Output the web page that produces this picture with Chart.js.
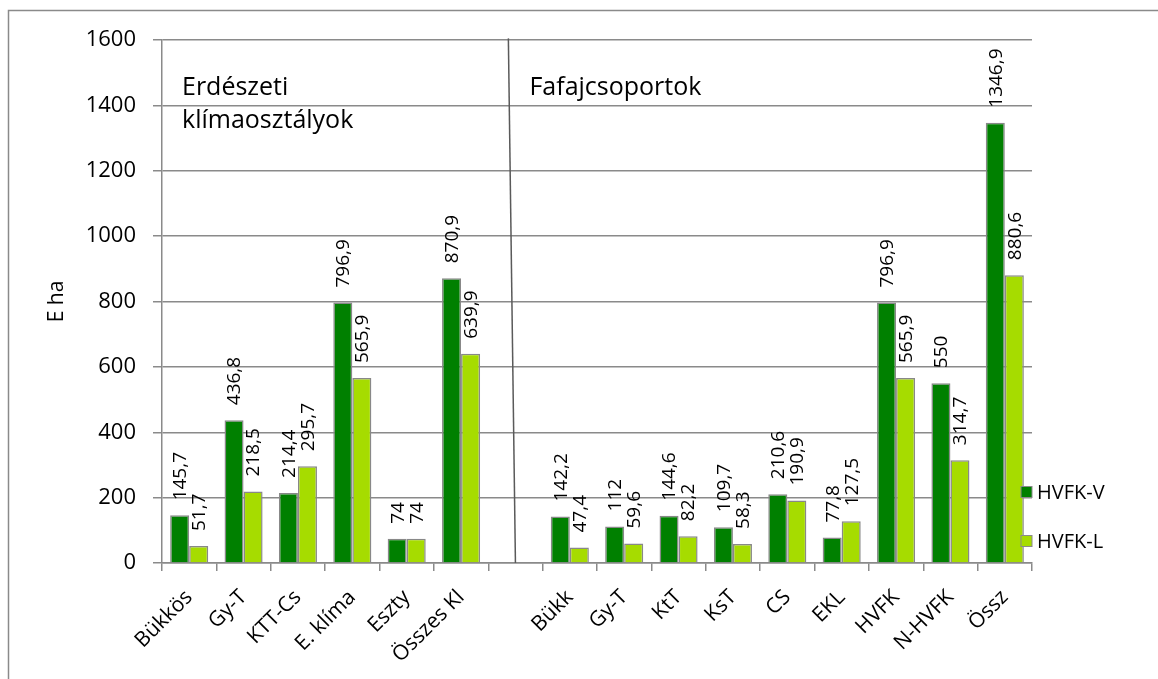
<!DOCTYPE html>
<html>
<head>
<meta charset="utf-8">
<script src="https://cdn.jsdelivr.net/npm/chart.js@4.4.1/dist/chart.umd.min.js"></script>
<style>
  html, body { margin: 0; padding: 0; background: #fff; }
  #wrap { width: 1158px; height: 679px; position: relative; }
</style>
</head>
<body>
<div id="wrap"><canvas id="c" width="1158" height="679"></canvas></div>
<script>
const categories = ['Bükkös', 'Gy-T', 'KTT-Cs', 'E. klíma', 'Eszty', 'Összes Kl', '', 'Bükk', 'Gy-T', 'KtT', 'KsT', 'CS', 'EKL', 'HVFK', 'N-HVFK', 'Össz'];
const seriesNames = ['HVFK-V', 'HVFK-L'];
const hvfkV = [145.7, 436.8, 214.4, 796.9, 74, 870.9, null, 142.2, 112, 144.6, 109.7, 210.6, 77.8, 796.9, 550, 1346.9];
const hvfkL = [51.7, 218.5, 295.7, 565.9, 74, 639.9, null, 47.4, 59.6, 82.2, 58.3, 190.9, 127.5, 565.9, 314.7, 880.6];
const yTicks = [0, 200, 400, 600, 800, 1000, 1200, 1400, 1600];
const groupTitles = [['Erdészeti', 'klímaosztályok'], ['Fafajcsoportok']];
const yTitle = 'E ha';

const FONT = "'Open Sans', 'DejaVu Sans', sans-serif";
const GRID = '#8a8a8a';
const colors = ['#008000', '#a6dc00'];

function fmt(v) { return String(v).replace('.', ','); }

const decorPlugin = {
  id: 'decor',
  beforeDraw(chart) {
    const ctx = chart.ctx;
    ctx.save();
    ctx.strokeStyle = GRID;
    ctx.lineWidth = 1.5;
    ctx.beginPath();
    ctx.moveTo(8.5, chart.height);
    ctx.lineTo(8.5, 10.5);
    ctx.lineTo(chart.width, 10.5);
    ctx.stroke();
    ctx.restore();
  },
  afterDatasetsDraw(chart) {
    const ctx = chart.ctx;
    const xs = chart.scales.x, ys = chart.scales.y, ca = chart.chartArea;
    ctx.save();
    // separator line between the two groups
    ctx.strokeStyle = '#5a5a5a';
    ctx.lineWidth = 1.5;
    ctx.beginPath();
    ctx.moveTo(xs.getPixelForValue(5.87), ys.getPixelForValue(1605));
    ctx.lineTo(xs.getPixelForValue(6), ys.getPixelForValue(0));
    ctx.stroke();

    // value labels
    ctx.fillStyle = '#000';
    ctx.font = '19px ' + FONT;
    ctx.textAlign = 'left';
    ctx.textBaseline = 'middle';
    chart.data.datasets.forEach((ds, di) => {
      const meta = chart.getDatasetMeta(di);
      meta.data.forEach((bar, i) => {
        const v = ds.data[i];
        if (v === null || v === undefined) return;
        ctx.save();
        ctx.translate(bar.x + 1, bar.y - 15);
        ctx.rotate(-Math.PI / 2);
        ctx.fillText(fmt(v), 0, 0);
        ctx.restore();
      });
    });

    // group titles
    ctx.font = '25px ' + FONT;
    ctx.textBaseline = 'alphabetic';
    groupTitles[0].forEach((t, k) => ctx.fillText(t, ca.left + 20, ys.top + 55 + k * 33));
    groupTitles[1].forEach((t, k) => ctx.fillText(t, xs.getPixelForValue(6) + 14, ys.top + 55 + k * 33));

    // legend
    ctx.font = '20px ' + FONT;
    ctx.textBaseline = 'middle';
    seriesNames.forEach((n, k) => {
      const cy = 492 + k * 49;
      ctx.fillStyle = colors[k];
      ctx.fillRect(1021, cy - 5.5, 11, 11);
      ctx.strokeStyle = GRID;
      ctx.lineWidth = 1;
      ctx.strokeRect(1021, cy - 5.5, 11, 11);
      ctx.fillStyle = '#000';
      ctx.fillText(n, 1037, cy + 1);
    });
    ctx.restore();
  }
};

new Chart(document.getElementById('c'), {
  type: 'bar',
  data: {
    labels: categories,
    datasets: [
      { label: seriesNames[0], data: hvfkV, backgroundColor: colors[0], borderColor: '#888', borderWidth: 1.5 },
      { label: seriesNames[1], data: hvfkL, backgroundColor: colors[1], borderColor: '#888', borderWidth: 1.5 }
    ]
  },
  options: {
    responsive: false,
    animation: false,
    events: [],
    layout: { padding: { left: 0, right: 126, top: 40, bottom: 0 } },
    datasets: { bar: { categoryPercentage: 0.7, barPercentage: 1.0 } },
    plugins: { legend: { display: false }, tooltip: { enabled: false } },
    scales: {
      x: {
        grid: { display: true, drawOnChartArea: false, drawTicks: true, tickLength: 8, color: GRID, lineWidth: 1.5, offset: true },
        border: { display: true, color: GRID, width: 1.5 },
        ticks: { color: '#000', font: { family: FONT, size: 21 }, maxRotation: 45, minRotation: 45, autoSkip: false, padding: 14 },
        afterFit(s) { s.height = 116; }
      },
      y: {
        min: 0, max: 1600,
        afterBuildTicks(s) { s.ticks = yTicks.map(v => ({ value: v })); },
        grid: { color: GRID, lineWidth: 1.5, drawTicks: true, tickLength: 9 },
        border: { display: true, color: GRID, width: 1.5 },
        ticks: { color: '#000', font: { family: FONT, size: 22 }, padding: 17, callback: (v) => String(v) },
        title: { display: true, text: yTitle, color: '#000', font: { family: FONT, size: 21 }, padding: { top: 44, bottom: 0 } },
        afterFit(s) { s.width = 162; }
      }
    }
  },
  plugins: [decorPlugin]
});
</script>
</body>
</html>
